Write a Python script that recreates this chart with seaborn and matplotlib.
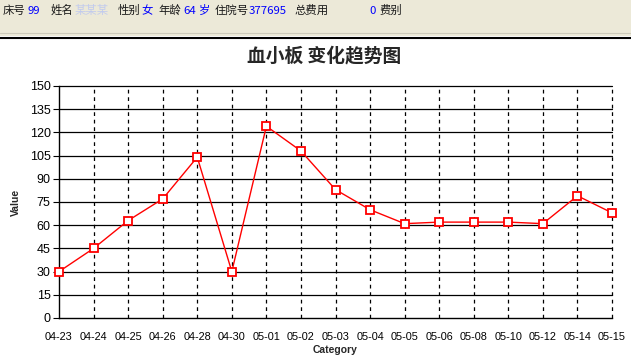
import matplotlib
matplotlib.use("Agg")
import matplotlib.pyplot as plt
import seaborn as sns
import pandas as pd
from matplotlib.patches import Rectangle
from matplotlib.lines import Line2D

categories = ["04-23", "04-24", "04-25", "04-26", "04-28", "04-30", "05-01", "05-02",
              "05-03", "05-04", "05-05", "05-06", "05-08", "05-10", "05-12", "05-14", "05-15"]
values = [30, 45, 63, 77, 104, 30, 124, 108, 83, 70, 61, 62, 62, 62, 61, 79, 68]
y_ticks = list(range(0, 151, 15))

title = "血小板 变化趋势图"
header_labels = [("床号", "k", 3), ("99", "#0000ff", 27), ("姓名", "k", 51),
                 ("性别", "k", 118), ("女", "#0000ff", 141), ("年龄", "k", 158),
                 ("64", "#0000ff", 183), ("岁", "#0000ff", 199), ("住院号", "k", 215),
                 ("377695", "#0000ff", 249), ("总费用", "k", 295), ("0", "#0000ff", 369),
                 ("费别", "k", 380)]

sns.set_theme(style="white")
plt.rcParams['font.family'] = ['Noto Sans CJK SC', 'DejaVu Sans']

W, H = 631, 356
fig = plt.figure(figsize=(W / 100, H / 100), dpi=100)
fig.patch.set_facecolor("white")


def fy(py):
    return 1 - py / H


# header bar
fig.patches.append(Rectangle((0, fy(36)), 1, 36 / H, transform=fig.transFigure,
                             facecolor="#ece9d8", edgecolor="none", zorder=0))
fig.lines.append(Line2D([0, 1], [fy(32.5), fy(32.5)], transform=fig.transFigure,
                        color="#cdcabb", lw=0.8))
fig.lines.append(Line2D([0, 1], [fy(37.5), fy(37.5)], transform=fig.transFigure,
                        color="black", lw=1.5))
for txt, col, px in header_labels:
    fig.text(px / W, fy(10.5), txt, color=col, fontsize=8.2, ha="left", va="center",
             family=['Noto Sans CJK SC', 'DejaVu Sans'])
# blurred name placeholder
fig.text(75 / W, fy(10.5), "某某某", color="#b7c3f3", fontsize=8.2, ha="left", va="center",
         alpha=0.8, family=['Noto Sans CJK SC', 'DejaVu Sans'])

fig.text(324 / W, fy(55.5), title, fontsize=13.5, fontweight="bold", ha="center", va="center",
         family=['Noto Sans CJK SC', 'DejaVu Sans'])

left, right, top, bottom = 59, 612, 86, 318
ax = fig.add_axes([left / W, 1 - bottom / H, (right - left) / W, (bottom - top) / H])
ax.set_facecolor("white")

df = pd.DataFrame({"Category": categories, "Value": values})
sns.lineplot(data=df, x="Category", y="Value", sort=False, ax=ax, color="red", lw=1,
             marker="s", markersize=6, markerfacecolor="white", markeredgecolor="red",
             markeredgewidth=1.3, zorder=5, clip_on=False)

ax.set_xlim(0, len(categories) - 1)
ax.set_ylim(0, 150)
ax.set_yticks(y_ticks)
ax.set_yticklabels([str(v) for v in y_ticks], fontsize=9, family="Liberation Sans")
ax.set_xticks(range(len(categories)))
ax.set_xticklabels(categories, fontsize=7.8, family="Liberation Sans")

for yv in y_ticks[1:]:
    ax.axhline(yv, color="black", lw=0.9, zorder=1, clip_on=False)
for i in range(1, len(categories)):
    ax.axvline(i, color="black", lw=0.9, ls=(0, (3, 3)), zorder=1, clip_on=False)

for s in ["top", "right"]:
    ax.spines[s].set_visible(False)
for s in ["left", "bottom"]:
    ax.spines[s].set_color("black")
    ax.spines[s].set_linewidth(1.0)

ax.tick_params(axis="y", which="both", left=True, length=4, width=0.8, color="black",
               pad=2, labelcolor="black")
ax.tick_params(axis="x", which="both", bottom=False, pad=4, labelcolor="black")

ax.set_xlabel("Category", fontsize=7.5, fontweight="bold", family="Liberation Sans", labelpad=2)
ax.set_ylabel("Value", fontsize=7.5, fontweight="bold", family="Liberation Sans", labelpad=6)

fig.savefig("out.png", dpi=100, facecolor="white")
